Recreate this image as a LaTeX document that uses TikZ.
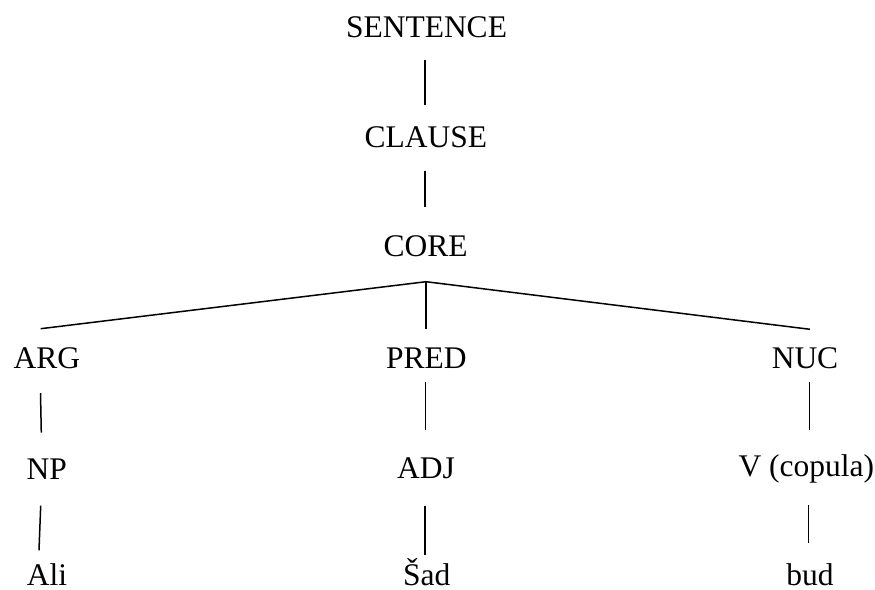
\documentclass[tikz,border=0pt]{standalone}
\usepackage{fontspec}
\setmainfont{Liberation Serif}
\begin{document}
\begin{tikzpicture}[x=1pt,y=-1pt,
  lbl/.style={anchor=base,inner sep=0pt,text depth=0pt,font=\fontsize{31.5}{36}\selectfont},
  edge/.style={line width=1.5pt}]
\useasboundingbox[fill=white] (0,0) rectangle (875,589);
% labels (centre x, baseline y)
\node[lbl] (S)    at (426.5,37)    {SENTENCE};
\node[lbl] (CL)   at (425.8,147.3) {CLAUSE};
\node[lbl] (CO)   at (425.7,256.7) {CORE};
\node[lbl] (ARG)  at (47,368.7)    {ARG};
\node[lbl] (PRED) at (426.3,368.3) {PRED};
\node[lbl] (NUC)  at (805,368.3)   {NUC};
\node[lbl] (NP)   at (46.7,479)    {NP};
\node[lbl] (ADJ)  at (426,478.3)   {ADJ};
\node[lbl] (V)    at (806.3,476)   {V (copula)};
\node[lbl] (ALI)  at (47,585)      {Ali};
\node[lbl] (SAD)  at (426.7,585)   {Šad};
\node[lbl] (BUD)  at (810,585)     {bud};
% connectors
\draw[edge] ([shift={(-1.5,23)}]S.base) -- ([shift={(-0.8,-42.3)}]CL.base);
\draw[edge] ([shift={(-0.8,23.4)}]CL.base) -- ([shift={(-0.7,-50)}]CO.base);
\coordinate (apex) at ([shift={(0.3,25)}]CO.base);
\draw[edge] (apex) -- ([shift={(-6.3,-40)}]ARG.base);
\draw[edge] (apex) -- ([shift={(-0.3,-39)}]PRED.base);
\draw[edge] (apex) -- ([shift={(5,-39)}]NUC.base);
\draw[edge] ([shift={(-6.5,24.5)}]ARG.base) -- ([shift={(-5.4,-46.3)}]NP.base);
\draw[edge] ([shift={(-0.8,13.4)}]PRED.base) -- ([shift={(-0.5,-48.3)}]ADJ.base);
\draw[edge] ([shift={(4.3,13.4)}]NUC.base) -- ([shift={(3,-46)}]V.base);
\draw[edge] ([shift={(-6,26.7)}]NP.base) -- ([shift={(-8,-34.7)}]ALI.base);
\draw[edge] ([shift={(-1,27.7)}]ADJ.base) -- ([shift={(-1.7,-30)}]SAD.base);
\draw[edge] ([shift={(2,29)}]V.base) -- ([shift={(-1.7,-42.3)}]BUD.base);
\end{tikzpicture}
\end{document}
